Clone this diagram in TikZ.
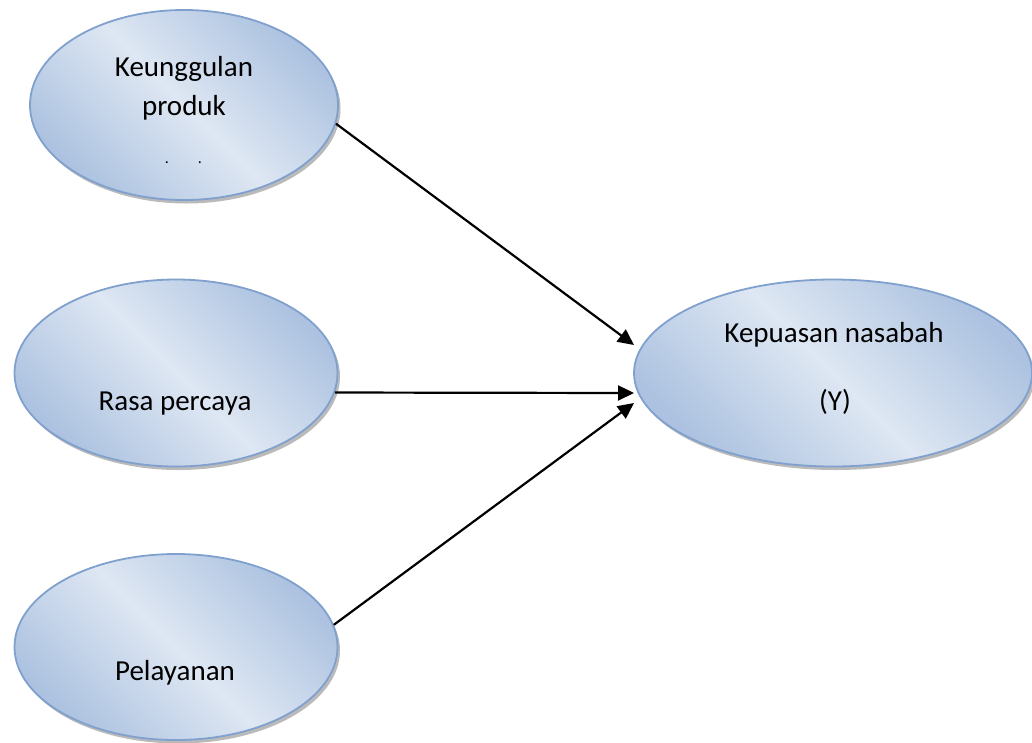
\documentclass[tikz,border=0pt]{standalone}
\usepackage{fontspec}
\setmainfont{Carlito}
\usetikzlibrary{shapes.geometric,arrows.meta,shadows}
\definecolor{elight}{RGB}{222,231,243}
\definecolor{edark}{RGB}{172,194,224}
\definecolor{eborder}{RGB}{128,160,206}
\begin{document}
\begin{tikzpicture}[x=1pt,y=-1pt,
  var/.style={ellipse,draw=eborder,line width=1.8pt,inner sep=0pt,
    top color=edark,bottom color=edark,middle color=elight,shading angle=-45,
    drop shadow={shadow xshift=2.5pt,shadow yshift=-3.5pt,fill=black!45,opacity=0.6}},
  lbl/.style={font=\fontsize{29}{35}\selectfont,anchor=base,inner sep=0pt},
  dotlbl/.style={font=\fontsize{16}{18}\selectfont,anchor=base,inner sep=0pt},
  arr/.style={line width=2.2pt,-{Triangle[length=16pt,width=15pt]}}]
\useasboundingbox (0,0) rectangle (1032,742);
\fill[white] (0,0) rectangle (1032,742);
\node[var,minimum width=308pt,minimum height=190pt] (e1) at (184,105) {};
\node[var,minimum width=323pt,minimum height=187pt] (e2) at (176,373) {};
\node[var,minimum width=323pt,minimum height=186pt] (e3) at (176,647) {};
\node[var,minimum width=398pt,minimum height=187pt] (ey) at (833,373) {};
\node[lbl] (k1) at (184,76) {Keunggulan};
\node[lbl] (k2) at (184,115) {produk};
\node[dotlbl] (d1) at (167,163) {.};
\node[dotlbl] (d2) at (200,163) {.};
\node[lbl] (rp) at (175,410) {Rasa percaya};
\node[lbl] (pl) at (175,680) {Pelayanan};
\node[lbl] (kn) at (834,342) {Kepuasan nasabah};
\node[lbl] (yy) at (835,410) {(Y)};
\coordinate (t1) at (634,345);
\coordinate (t2) at (634,393);
\coordinate (t3) at (634,403);
\draw[arr] (e1.-7.5) -- (t1);
\draw[arr] (e2.-7.1) -- (t2);
\draw[arr] (e3.8.9) -- (t3);
\end{tikzpicture}
\end{document}
